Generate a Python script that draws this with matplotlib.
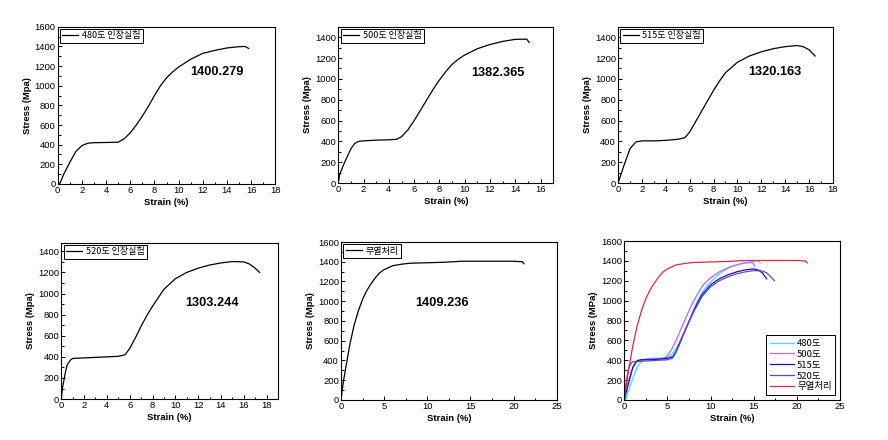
import matplotlib
matplotlib.use("Agg")
from matplotlib import pyplot as plt
from matplotlib.ticker import AutoMinorLocator

plt.rcParams['font.family'] = ['Liberation Sans', 'Noto Sans CJK KR', 'DejaVu Sans']

# strain (%) / stress (MPa)
x480 = [0, 0.2, 0.5, 1, 1.5, 2, 2.5, 3, 4, 5, 5.5, 6, 6.5, 7, 7.5, 8, 8.5, 9, 9.5,
        10, 11, 12, 13, 14, 15, 15.5, 15.8]
y480 = [0, 10, 100, 220, 330, 390, 415, 420, 422, 425, 460, 520, 600, 690, 790, 900,
        1000, 1080, 1140, 1190, 1270, 1330, 1360, 1385, 1398, 1400, 1380]

x500 = [0, 0.1, 0.5, 1, 1.3, 1.6, 2, 3, 4, 4.6, 5, 5.5, 6, 6.5, 7, 7.5, 8, 8.5, 9,
        9.5, 10, 11, 12, 13, 14, 14.9, 15.1]
y500 = [0, 80, 200, 330, 380, 400, 405, 412, 415, 420, 445, 510, 600, 700, 800, 900,
        990, 1070, 1140, 1190, 1230, 1290, 1330, 1360, 1380, 1382, 1350]

x515 = [0, 0.5, 1, 1.5, 2, 3, 4, 5, 5.6, 6, 6.5, 7, 7.5, 8, 8.5, 9, 9.5, 10, 11, 12,
        13, 14, 15, 15.5, 16, 16.5]
y515 = [0, 170, 330, 395, 405, 405, 410, 420, 435, 490, 590, 690, 790, 890, 980, 1060,
        1110, 1160, 1220, 1260, 1290, 1310, 1320, 1310, 1280, 1220]

x520 = [0, 0.1, 0.3, 0.5, 0.8, 1, 2, 3, 4, 5, 5.6, 6, 6.5, 7, 7.5, 8, 8.5, 9, 9.5, 10,
        11, 12, 13, 14, 15, 16, 16.5, 17, 17.4]
y520 = [0, 100, 220, 320, 370, 385, 390, 395, 400, 405, 420, 480, 580, 690, 790, 880,
        960, 1040, 1090, 1140, 1200, 1240, 1270, 1290, 1303, 1300, 1280, 1240, 1200]

xraw = [0, 0.3, 0.7, 1, 1.5, 2, 2.5, 3, 3.5, 4, 4.5, 5, 6, 7, 8, 10, 12, 14, 16, 18,
        20, 21, 21.2]
yraw = [0, 200, 400, 550, 750, 900, 1020, 1110, 1180, 1240, 1290, 1320, 1360, 1375,
        1385, 1390, 1395, 1405, 1405, 1405, 1405, 1400, 1380]

legend_single = ['480도 인장실험', '500도 인장실험', '515도 인장실험', '520도 인장실험', '무열처리']
legend_all = ['480도', '500도', '515도', '520도', '무열처리']
peaks = ['1400.279', '1382.365', '1320.163', '1303.244', '1409.236']

series = [(x480, y480), (x500, y500), (x515, y515), (x520, y520), (xraw, yraw)]
colors = ['#40e0e8', '#c060ff', '#1010c0', '#7040c8', '#e02840']

# axes boxes [left, bottom, width, height] and limits per panel
boxes = [[0.065, 0.582, 0.245, 0.357], [0.381, 0.584, 0.242, 0.355],
         [0.696, 0.584, 0.242, 0.355], [0.069, 0.093, 0.244, 0.355],
         [0.384, 0.091, 0.243, 0.359], [0.703, 0.091, 0.243, 0.361]]
xlims = [(0, 18), (0, 17), (0, 18), (0, 19), (0, 25), (0, 25)]
ylims = [(0, 1600), (0, 1500), (0, 1500), (0, 1480), (0, 1600), (0, 1600)]
xsteps = [2, 2, 2, 2, 5, 5]
ysteps = [200] * 6
notes = [(13.2, 1140), (12.6, 1058), (13.1, 1067), (13.2, 910), (11.7, 982)]

fig = plt.figure(figsize=(8.88, 4.4), dpi=100)
kfont = ['Noto Sans CJK KR', 'DejaVu Sans']


def style(ax, i):
    ax.set_xlim(*xlims[i])
    ax.set_ylim(*ylims[i])
    ax.set_xticks(range(xlims[i][0], xlims[i][1] + 1, xsteps[i]))
    ax.set_yticks(range(0, ylims[i][1] + 1, ysteps[i]))
    ax.xaxis.set_minor_locator(AutoMinorLocator(2))
    ax.yaxis.set_minor_locator(AutoMinorLocator(2))
    ax.tick_params(which='both', direction='in', labelsize=6.8, width=0.7, pad=1.5)
    ax.tick_params(which='major', length=3)
    ax.tick_params(which='minor', length=1.8)
    for s in ax.spines.values():
        s.set_linewidth(0.8)
    ax.set_xlabel('Strain (%)', fontsize=6.8, fontweight='bold', labelpad=2)
    ylab = 'Stress (MPa)' if i == 5 else 'Stress (Mpa)'
    ax.set_ylabel(ylab, fontsize=6.8, fontweight='bold', labelpad=2)


for i in range(5):
    ax = fig.add_axes(boxes[i])
    xs, ys = series[i]
    ax.plot(xs, ys, color='black', lw=0.9, label=legend_single[i])
    style(ax, i)
    leg = ax.legend(loc='upper left', prop={'family': kfont, 'size': 6.5},
                    handlelength=1.8, handletextpad=0.4, borderpad=0.25,
                    borderaxespad=0.25, fancybox=False, framealpha=1,
                    edgecolor='black')
    leg.get_frame().set_linewidth(0.7)
    ax.text(notes[i][0], notes[i][1], peaks[i], ha='center', va='center',
            fontsize=9.2, fontweight='bold')

ax = fig.add_axes(boxes[5])
for (xs, ys), c, lab in zip(series, colors, legend_all):
    ax.plot(xs, ys, color=c, lw=0.9, label=lab)
style(ax, 5)
leg = ax.legend(loc='lower right', prop={'family': kfont, 'size': 6.8},
                handlelength=2.6, handletextpad=0.3, borderpad=0.4,
                labelspacing=0.2, borderaxespad=0.5, fancybox=False,
                framealpha=1, edgecolor='black')
leg.get_frame().set_linewidth(0.7)

fig.savefig('out.png', dpi=100)
